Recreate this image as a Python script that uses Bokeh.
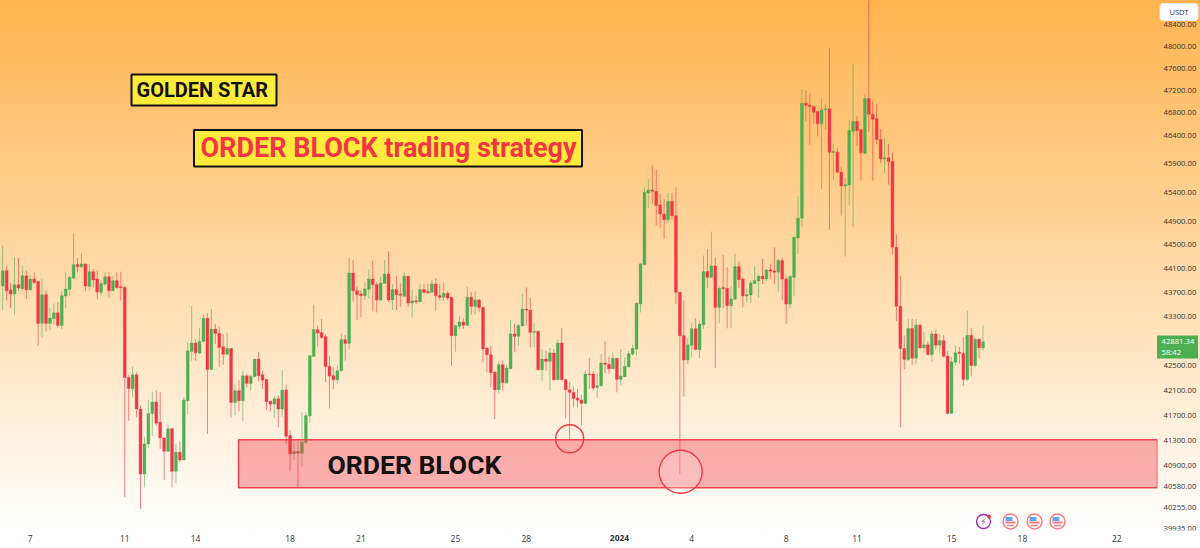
import math
from bokeh.plotting import figure
from bokeh.models import (ColumnDataSource, Range1d, FixedTicker, PrintfTickFormatter,
                          Label, BoxAnnotation)
from bokeh.embed import file_html
from bokeh.resources import INLINE

opens = [
43803,44060,43737,43670,43825,43759,43976,43742,43920,43881,
43184,43659,43184,43261,43361,43151,43637,43748,43937,44166,
44127,44172,43798,44043,43920,43698,43836,43959,43726,43892,
43792,43781,42303,42120,42346,41796,40775,41244,41726,41908,
41584,41338,41129,41484,40817,41113,40993,41929,42724,42861,
42697,42888,43267,42432,43091,43020,42801,42680,42772,41902,
42088,41929,42330,42206,42319,42599,42346,42271,41918,41875,
41960,41796,42099,41375,41087,41121,41095,41267,41689,42645,
43081,43032,42966,42482,42330,42266,42411,42916,42856,44022,
43727,43671,43643,43749,43921,43827,43571,43849,44005,43571,
43743,43671,43632,43966,43520,43559,43543,43743,43710,43699,
43838,43643,43615,43682,43615,42982,43136,43207,43152,43615,
43464,43571,43448,42780,42672,42389,42105,42509,42212,42444,
43010,42971,43141,43421,43404,43037,43053,42428,42601,42563,
42699,42266,42862,42266,42105,42062,41971,41939,41886,42358,
42358,42142,42169,42536,42515,42444,42612,42272,42315,42477,
42682,42763,43504,44163,45387,45439,45416,45180,45024,44926,
45243,44995,43699,42982,42585,42823,43096,42752,43162,44045,
43950,44141,43449,43777,43766,43477,43582,44130,43922,43638,
43655,43844,43888,43967,43922,44074,44057,44034,44231,43922,
43504,43950,44614,44952,46967,46931,46907,46818,46599,46848,
46866,46092,46098,45746,45509,45526,46468,46641,46492,46080,
47050,46771,46688,46321,45980,45998,45933,44457,43467,42772,
42594,43101,42615,43154,42783,42832,42675,43010,42826,42902,
42648,41727,42550,42713,42691,42271,42988,42496,42924,42783]
highs = [
44482,44144,43853,44284,44273,44144,44060,43987,44032,43892,
43920,43737,43438,43515,43532,43726,44032,43976,44682,44273,
44351,44183,44172,44088,44071,43892,44032,44032,43976,44032,
44043,43803,42346,42475,42383,41849,41359,41940,42067,42099,
42067,41348,41547,41495,41244,41280,41982,42872,43471,42927,
43107,43328,43350,43421,43173,43129,43009,43031,42778,42195,
42260,42410,42357,42346,42599,42718,42410,42281,41929,42008,
42014,42421,42184,41464,41296,41293,41741,41741,42656,43493,
43147,43256,43010,42645,42466,42493,43021,42993,44275,44241,
43793,43727,43866,44089,44230,43866,43960,44241,44388,43838,
43977,43849,44033,43977,43755,43643,43838,43838,43838,43905,
43938,43838,43866,43715,43615,43163,43311,43267,43793,43699,
43715,43587,43459,42791,42818,42400,42563,42574,42509,43240,
43174,43174,43671,43782,43604,43185,43064,42764,42737,42780,
42764,42927,43108,42277,42223,42153,42116,42025,42411,42617,
42401,42369,42682,42889,42639,42709,42617,42763,42628,42736,
42834,43532,44186,45485,45630,45863,45788,45370,45283,45387,
45387,45485,43699,43560,42952,43200,43271,43227,44315,44427,
44722,44276,43810,44326,44118,43794,44343,44214,43950,43771,
43894,44135,43995,44259,44090,44175,44456,44259,44276,43978,
43978,44637,45324,47224,47194,47134,46925,46818,47038,46955,
47965,46245,46168,45845,45659,46658,47675,46735,46510,47134,
49100,47002,46955,46510,46350,46245,46098,44668,43976,42983,
43254,43254,43254,43176,43037,42891,43054,43076,42999,42999,
42734,42637,42821,42794,42956,43393,43110,42945,42945,43154]
lows = [
43405,43560,43438,43328,43726,43726,43587,43726,43836,42817,
42954,43053,43074,43162,43107,43091,43438,43642,43920,44032,
44105,43715,43726,43781,43582,43642,43808,43604,43715,43753,
43560,40412,41610,41982,41663,40233,40565,41181,41375,41532,
41165,40681,41113,40565,40628,40957,40983,41716,42572,42572,
42680,42872,41401,42426,42844,42475,42507,42669,41663,41690,
41758,41610,42141,42088,42303,42238,42115,41780,41758,41652,
41505,41674,41244,40817,40993,40567,40886,41241,41573,42640,
42802,42927,42223,41805,42116,42196,42400,42574,42759,43548,
43240,43284,43571,43587,43382,43366,43559,43838,43532,43404,
43404,43459,43626,43459,43284,43504,43532,43682,43682,43688,
43393,43559,43559,43571,42493,42720,43092,43092,43141,43327,
43327,43366,42547,42384,42143,41636,42046,42089,42207,42438,
42710,42818,43136,43147,42791,42791,42411,42250,42411,42089,
42250,42261,42261,41647,41308,41821,41821,41531,41875,42116,
42089,41972,42153,42369,42358,42439,42063,42169,42304,42455,
42655,42655,43365,44147,45128,45197,44824,44785,44597,44864,
44926,43504,40771,41993,42520,42628,42736,42617,43091,43771,
43939,42455,43184,43438,43102,43102,43577,43771,43449,43532,
43521,43838,43605,43838,43883,43922,43838,43699,43571,43173,
43438,43632,44343,44799,46647,46227,46599,46374,45457,46492,
44753,45619,45735,44998,44297,45180,44799,46203,45601,46057,
46456,45601,46233,45904,45735,45532,44332,43221,41506,42437,
42561,42507,42518,42762,42713,42659,42561,42762,42713,42626,
41727,41727,42496,42529,42170,42250,42330,42464,42610,42729]
closes = [
44060,43726,43670,43825,43770,43976,43742,43920,43864,43184,
43659,43184,43272,43361,43151,43642,43753,43948,44161,44127,
44172,43803,44043,43903,43704,43847,43959,43726,43892,43781,
43775,42303,42125,42346,41796,40775,41244,41726,41908,41573,
41338,41129,41484,40817,41113,40993,41940,42735,42861,42702,
42888,43267,42432,43091,43020,42790,42680,42772,41902,42088,
41929,42330,42206,42319,42599,42330,42260,41913,41875,41960,
41796,42099,41364,41087,41124,41100,41272,41689,42656,43081,
43026,42955,42477,42325,42266,42411,42916,42856,44022,43727,
43660,43643,43755,43921,43827,43571,43854,44005,43571,43743,
43660,43649,43966,43520,43559,43543,43743,43699,43693,43838,
43643,43615,43682,43604,42982,43147,43207,43152,43615,43464,
43571,43448,42764,42672,42379,42105,42509,42223,42455,43010,
42971,43147,43421,43404,43037,43053,42428,42601,42563,42699,
42266,42862,42266,42105,42062,41966,41939,41886,42357,42347,
42132,42169,42536,42515,42444,42612,42272,42326,42482,42687,
42774,43516,44175,45399,45439,45416,45168,45024,44926,45243,
44995,43699,42982,42585,42833,43096,42758,43173,44045,43950,
44141,43449,43766,43760,43477,43588,44130,43911,43638,43660,
43855,43894,43967,43927,44074,44051,44034,44231,43922,43504,
43961,44626,44949,46967,46931,46907,46806,46599,46848,46866,
46098,46110,45746,45509,45532,46480,46641,46480,46086,47050,
46771,46682,46321,45980,45998,45933,44457,43467,42772,42594,
43101,42615,43154,42783,42832,42675,43010,42826,42902,42648,
41727,42556,42702,42691,42271,42988,42496,42924,42783,42881.34]

price_ticks = [48400,48000,47600,47200,46800,46400,45900,45400,44900,44500,44100,43700,
               43300,42500,42100,41700,41300,40900,40580,40255,39935]
day_ticks = [8,32,50,74,92,116,134,176,200,218,242,260,284]
day_labels = ["7","11","14","18","21","25","28","4","8","11","15","18","22"]
year_label = "2024"
order_block = dict(start=60.9, top=41309, bottom=40559)
circled = dict(x=[145,173.2], y=[41325,40807])
last_price = 42881.34

W, H, FW, FH = 1200, 548, 1157, 530
STEP = 3.937
X0 = 0.441
P_TOP = 48843.0
KY = 2622.0
def X(px): return X0 + px/STEP
def Y(py): return P_TOP*math.exp(-py/KY)

GREEN, RED = "#4CAF50", "#F23645"
FONT = "Open Sans"

p = figure(frame_width=FW, frame_height=FH, output_backend="svg", toolbar_location=None,
           x_range=Range1d(X(0), X(FW)), y_range=Range1d(Y(FH), Y(0)), y_axis_type="log",
           y_axis_location="right", min_border_left=0, min_border_top=0,
           min_border_right=W-FW, min_border_bottom=H-FH,
           background_fill_alpha=0, border_fill_alpha=0, outline_line_color=None)
p.styles = {"background": "linear-gradient(180deg,#FFB44E 0%,#FFFFFF 97%)",
            "position": "fixed", "left": "0px", "top": "0px"}
p.grid.visible = False

ya = p.yaxis[0]
ya.ticker = FixedTicker(ticks=price_ticks)
ya.formatter = PrintfTickFormatter(format="%.2f")
ya.axis_line_color = None
ya.major_tick_line_color = None
ya.minor_tick_line_color = None
ya.major_tick_out = 0
ya.major_label_text_font = FONT
ya.major_label_text_font_size = "7.7px"
ya.major_label_text_color = "#333333"
ya.major_label_standoff = 6

xa = p.xaxis[0]
xa.ticker = FixedTicker(ticks=day_ticks)
xa.major_label_overrides = {t: l for t, l in zip(day_ticks, day_labels)}
xa.axis_line_color = None
xa.major_tick_line_color = None
xa.minor_tick_line_color = None
xa.major_tick_out = 0
xa.major_label_text_font = FONT
xa.major_label_text_font_size = "8.5px"
xa.major_label_text_color = "#333333"
xa.major_label_standoff = 4

idx = list(range(1, len(opens)+1))
colors = [GREEN if c >= o else RED for o, c in zip(opens, closes)]
src = ColumnDataSource(dict(x=idx, o=opens, h=highs, l=lows, c=closes, color=colors,
                            top=[max(a, b) for a, b in zip(opens, closes)],
                            bot=[min(a, b) for a, b in zip(opens, closes)]))
p.segment("x", "h", "x", "l", source=src, color="color", line_width=1, line_alpha=0.6)
p.vbar("x", width=0.72, top="top", bottom="bot", source=src, fill_color="color",
       line_color="color", line_width=0.4)

p.quad(left=order_block["start"], right=X(FW), top=order_block["top"], bottom=order_block["bottom"],
       fill_color=RED, fill_alpha=0.38, line_color=RED, line_width=1.5, line_alpha=0.9)
p.scatter(circled["x"], circled["y"], size=[28, 43], marker="circle",
          fill_color=["#FFFFFF", "#FFFFFF"], fill_alpha=[0.0, 0.2], line_color=RED, line_width=1.4)

# transparent sheet over the whole page for the annotations that lie outside the plot frame
q = figure(frame_width=W, frame_height=H, output_backend="svg", toolbar_location=None,
           x_range=Range1d(0, W), y_range=Range1d(H, 0), x_axis_location=None, y_axis_location=None,
           min_border=0, background_fill_alpha=0, border_fill_alpha=0, outline_line_color=None)
q.grid.visible = False
q.styles = {"position": "fixed", "left": "0px", "top": "0px"}

def box(l, r, t, b, fill, line=None, lw=0, radius=0):
    q.add_layout(BoxAnnotation(left=l, right=r, top=t, bottom=b, fill_color=fill, fill_alpha=1,
                               line_color=line, line_alpha=1, line_width=lw, border_radius=radius))
def label(px, py, text, size, color, font=FONT, style="normal", align="left"):
    q.add_layout(Label(x=px, y=py, text=text, text_font_size=f"{size}px", text_color=color, text_font=font,
                       text_font_style=style, text_align=align, text_baseline="middle"))

label(327, 463.5, "ORDER BLOCK", 26.5, "#111111", "Roboto", "bold")
box(131, 276, 74, 105, "#FFEB3B", "#111111", 2)
label(136, 89.5, "GOLDEN STAR", 20, "#111111", "Roboto", "bold")
box(193.5, 581.5, 129.5, 166, "#FFEB3B", "#111111", 2)
label(200, 147.5, "ORDER BLOCK trading strategy", 27, RED, "Roboto", "bold")

# price scale extras
box(FW, W, FH, H, "#FFFFFF")
box(1159.5, 1197.5, 3, 20, "#FFFFFF", "#E8E8E8", 1, 3)
label(1178.5, 11.5, "USDT", 7.5, "#333333", FONT, "normal", "center")
box(1156.5, 1197.5, 335, 358, GREEN)
label(1161, 341, f"{last_price:.2f}", 7.7, "#FFFFFF")
label(1161, 351, "58:42", 7.7, "#FFFFFF")
label(619, 537.5, year_label, 8.5, "#333333", FONT, "bold", "center")

# event icons
ICON_Y = 521
q.scatter([983], [ICON_Y], size=14, marker="circle", fill_color="#FFFFFF", fill_alpha=0.6,
          line_color="#9C27B0", line_width=1.3)
label(983, ICON_Y, "\u26A1", 9, "#9C27B0", "DejaVu Sans", "normal", "center")
q.scatter([988.5], [ICON_Y-5], size=4, marker="circle", fill_color=RED, line_color=None)
for fx in (1010, 1034, 1057):
    q.scatter([fx], [ICON_Y], size=15, marker="circle", fill_color="#FFFFFF", line_color="#F77C80", line_width=1.5)
    q.rect([fx], [ICON_Y+1], width=10, height=2, fill_color="#F77C80", line_color=None)
    q.rect([fx], [ICON_Y+4], width=7, height=1.5, fill_color="#F77C80", line_color=None)
    q.rect([fx-1.5], [ICON_Y-2.5], width=7, height=4, fill_color="#64A5EE", line_color=None)

open("out.html", "w").write(file_html([p, q], INLINE))
